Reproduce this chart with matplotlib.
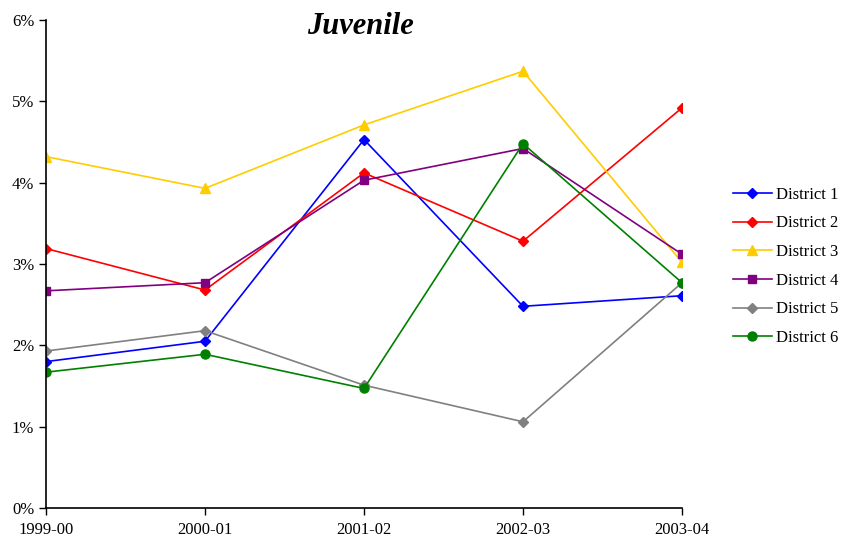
import matplotlib.pyplot as plt
from matplotlib.ticker import FuncFormatter

years = ["1999-00", "2000-01", "2001-02", "2002-03", "2003-04"]
district_1 = [1.80, 2.05, 4.53, 2.48, 2.61]
district_2 = [3.19, 2.68, 4.12, 3.28, 4.92]
district_3 = [4.32, 3.93, 4.71, 5.37, 3.02]
district_4 = [2.67, 2.77, 4.03, 4.42, 3.12]
district_5 = [1.93, 2.18, 1.51, 1.06, 2.77]
district_6 = [1.67, 1.89, 1.47, 4.48, 2.77]

series = [
    ("District 1", district_1, "#0000FF", "D"),
    ("District 2", district_2, "#FF0000", "D"),
    ("District 3", district_3, "#FFCC00", "^"),
    ("District 4", district_4, "#800080", "s"),
    ("District 5", district_5, "#808080", "D"),
    ("District 6", district_6, "#008000", "o"),
]

plt.rcParams["font.family"] = ["Liberation Serif", "DejaVu Serif"]

fig = plt.figure(figsize=(8.43, 5.37), dpi=100)
ax = fig.add_axes([46 / 843, 29 / 537, 636 / 843, 488 / 537])

x = list(range(len(years)))
for name, values, color, marker in series:
    ms = 6.5 if marker in ("^", "o") else 5.5
    ax.plot(x, values, color=color, marker=marker, markersize=ms,
            linewidth=1.2, label=name)

ax.set_xlim(0, len(years) - 1)
ax.set_ylim(0, 6)
ax.set_xticks(x)
ax.set_xticklabels(years)
ax.set_yticks(range(0, 7))
ax.yaxis.set_major_formatter(FuncFormatter(lambda v, _: f"{v:.0f}%"))
ax.tick_params(labelsize=12, length=5, width=1, color="black")
ax.tick_params(axis="x", pad=5)
for side in ("top", "right"):
    ax.spines[side].set_visible(False)
for side in ("left", "bottom"):
    ax.spines[side].set_linewidth(1.2)

ax.text(0.495, 0.986, "Juvenile", transform=ax.transAxes, ha="center", va="center",
        fontsize=22, fontweight="bold", fontstyle="italic")

fig.legend(loc="center left", bbox_to_anchor=(0.852, 0.504),
           frameon=False, fontsize=12, handlelength=2.3, labelspacing=0.76,
           handletextpad=0.25)

fig.savefig("out.png", dpi=100)
